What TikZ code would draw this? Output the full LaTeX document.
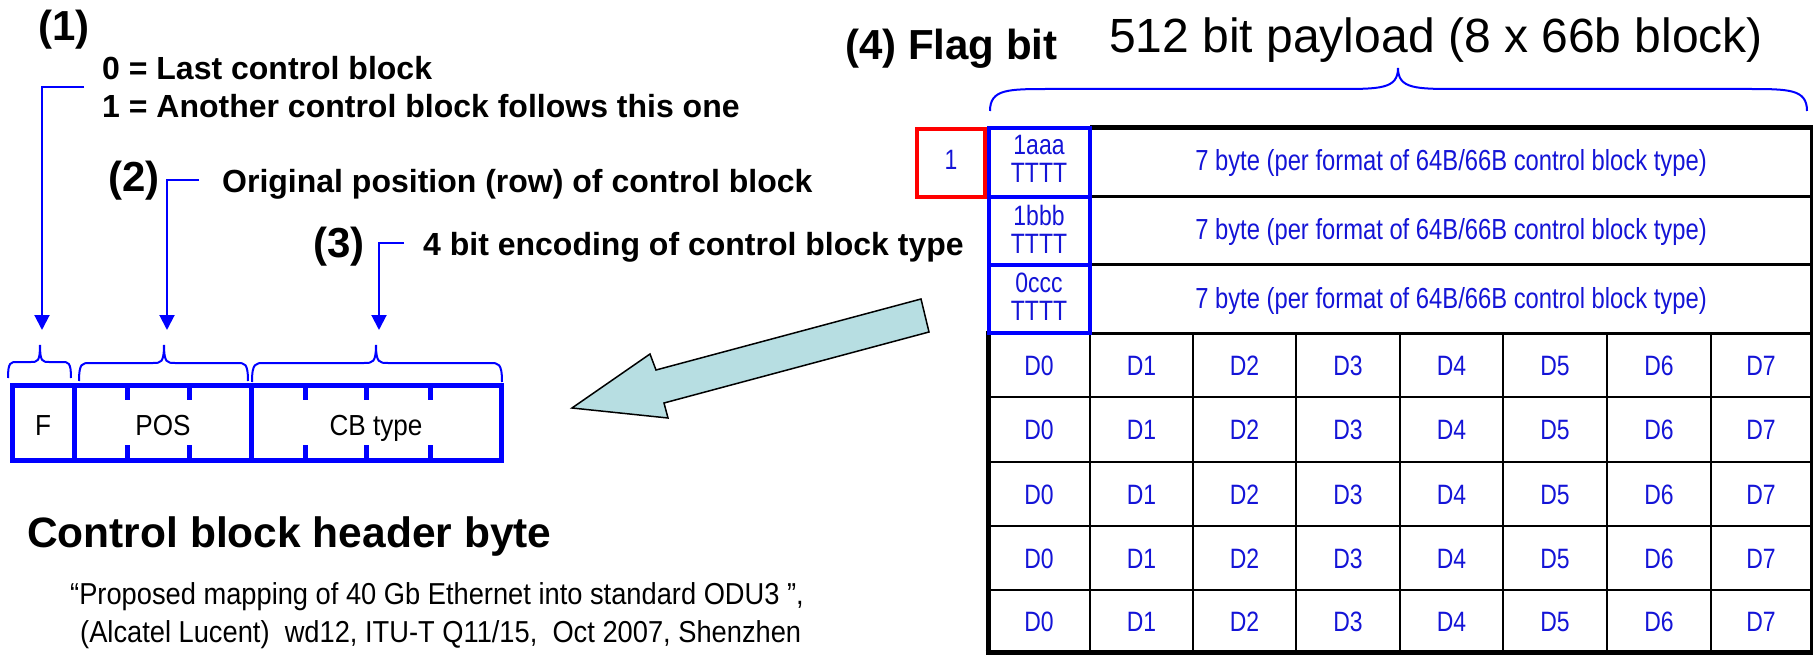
\documentclass[tikz,border=0pt]{standalone}
\usepackage{fontspec}
\setmainfont{Liberation Sans}
\newfontfamily\narrowfont[FakeStretch=0.82]{Liberation Sans}
\newfontfamily\fieldfont[FakeStretch=0.9]{Liberation Sans}
\usetikzlibrary{arrows.meta}

\definecolor{lineblue}{RGB}{0,0,255}
\definecolor{textblue}{RGB}{20,20,215}
\definecolor{flagred}{RGB}{255,0,0}
\definecolor{arrowfill}{RGB}{183,222,226}

% Horizontal curly brace opening downwards:
% #1 left x, #2 right x, #3 tip x, #4 end y, #5 flat y, #6 tip y, #7 curl width
\newcommand{\fieldbrace}[7]{%
  \draw[bracepen] (#1,#4) .. controls (#1,#5) and (#1+0.3*#7,#5) .. (#1+#7,#5)
    -- (#3-#7,#5) .. controls (#3-0.3*#7,#5) and (#3,#5) .. (#3,#6)
    .. controls (#3,#5) and (#3+0.3*#7,#5) .. (#3+#7,#5)
    -- (#2-#7,#5) .. controls (#2-0.3*#7,#5) and (#2,#5) .. (#2,#4);}

\tikzset{
  bracepen/.style={draw=lineblue, line width=2pt},
  callout/.style={draw=lineblue, line width=2pt, -{Triangle[width=15pt,length=15pt]}},
  numlbl/.style={anchor=base west, inner sep=0pt, font=\fontsize{42}{46}\selectfont\bfseries},
  desclbl/.style={anchor=base west, inner sep=0pt, font=\fontsize{32}{36}\selectfont\bfseries},
  bytebox/.style={draw=lineblue, line width=5pt},
  bytetick/.style={draw=lineblue, line width=5pt},
  fieldtxt/.style={anchor=base, inner sep=0pt, font=\fieldfont\fontsize{29}{31}\selectfont},
  thickrule/.style={draw=black, line width=5pt},
  midrule/.style={draw=black, line width=3pt},
  gridrule/.style={draw=black, line width=2.5pt},
  cbcell/.style={inner sep=0pt, align=center, text=textblue, font=\narrowfont\fontsize{28}{28}\selectfont},
  bytetxt/.style={anchor=base, inner sep=0pt, text=textblue, font=\narrowfont\fontsize{29}{30}\selectfont},
  datatxt/.style={anchor=base, inner sep=0pt, text=textblue, font=\narrowfont\fontsize{28}{30}\selectfont},
  quotetxt/.style={anchor=base west, inner sep=0pt, font=\fieldfont\fontsize{30.3}{34}\selectfont},
}

\begin{document}
\begin{tikzpicture}[x=1pt, y=-1pt]
\fill[white] (0,0) rectangle (1813,655);
\useasboundingbox (0,0) rectangle (1813,655);

% ---------- field descriptions ----------
\node[numlbl] (n1) at (38,41) {(1)};
\node[desclbl] (d1a) at (102,80) {0 = Last control block};
\node[desclbl] (d1b) at (102,118) {1 = Another control block follows this one};
\node[numlbl] (n2) at (108,192) {(2)};
\node[desclbl] (d2) at (222,193) {Original position (row) of control block};
\node[numlbl] (n3) at (313,258) {(3)};
\node[desclbl] (d3) at (423,255) {4 bit encoding of control block type};

% callout lines down to the header fields
\coordinate (k1) at (84,87);   \coordinate (a1) at (42,330);
\coordinate (k2) at (199,180); \coordinate (a2) at (167,330);
\coordinate (k3) at (404,243); \coordinate (a3) at (379,330);
\draw[callout] (k1) -| (a1);
\draw[callout] (k2) -| (a2);
\draw[callout] (k3) -| (a3);

% ---------- control block header byte ----------
\fieldbrace{8}{71}{40}{378}{362}{345}{9}
\fieldbrace{79}{248}{164}{381}{363}{345}{11}
\fieldbrace{252}{502}{376}{382}{363}{345}{12}

\draw[bytebox] (12,385) rectangle (501,460);
\draw[bytebox] (74.5,385) -- (74.5,460);
\draw[bytebox] (251.5,385) -- (251.5,460);
\foreach \tx in {127.3,189.3,305,366.7,430} {
  \draw[bytetick] (\tx,385) -- (\tx,400);
  \draw[bytetick] (\tx,445) -- (\tx,460);
}
\node[fieldtxt] (fF) at (43,435) {F};
\node[fieldtxt] (fPOS) at (163,435) {POS};
\node[fieldtxt] (fCB) at (376,435) {CB type};

\node[anchor=base west, inner sep=0pt, font=\fontsize{42.5}{46}\selectfont\bfseries] (title) at (27,547) {Control block header byte};
\node[quotetxt] (q1) at (70,604) {“Proposed mapping of 40 Gb Ethernet into standard ODU3 ”,};
\node[quotetxt] (q2) at (80,642) {(Alcatel Lucent)~ wd12, ITU-T Q11/15,~ Oct 2007, Shenzhen};

% ---------- big arrow ----------
\draw[fill=arrowfill, draw=black, line width=1.5pt, line join=miter]
  (572,408) -- (650,354) -- (656,370) -- (921,299) -- (929,332) -- (664,403) -- (668,418) -- cycle;

% ---------- payload block ----------
\node[numlbl] (n4) at (845,60) {(4) Flag bit};
\node[anchor=base west, inner sep=0pt, font=\fontsize{48}{52}\selectfont] (pay) at (1109,53) {512 bit payload (8 x 66b block)};
\fieldbrace{990}{1807}{1398}{111}{89}{68}{60}

% black frame and grid
\draw[thickrule] (1090,128) -- (1813,128);
\draw[midrule] (1811.5,128) -- (1811.5,652);
\foreach \ry in {197,265,333} { \draw[midrule] (1090,\ry) -- (1811,\ry); }
\foreach \ry in {397,462,526,590} { \draw[gridrule] (988,\ry) -- (1811,\ry); }
\foreach \cx in {1090,1193,1296,1400,1503,1607,1711} { \draw[gridrule] (\cx,333) -- (\cx,652); }
\draw[thickrule] (988,331) -- (988,654.5);
\draw[thickrule] (985.5,652) -- (1813,652);

% flag bit and control block type cells
\draw[draw=flagred, line width=4pt] (917,129) rectangle (985,197);
\draw[draw=lineblue, line width=4.5pt] (989,128) rectangle (1090,333);
\draw[draw=lineblue, line width=4.5pt] (989,197) -- (1090,197);
\draw[draw=lineblue, line width=4.5pt] (989,265) -- (1090,265);

\node[cbcell, anchor=base] (flag) at (951,170) {1};
\node[cbcell] (cb1) at (1039,159) {1aaa\\TTTT};
\node[cbcell] (cb2) at (1039,229) {1bbb\\TTTT};
\node[cbcell] (cb3) at (1039,297) {0ccc\\TTTT};

\node[bytetxt] (b1) at (1451,171) {7 byte (per format of 64B/66B control block type)};
\node[bytetxt] (b2) at (1451,240) {7 byte (per format of 64B/66B control block type)};
\node[bytetxt] (b3) at (1451,308) {7 byte (per format of 64B/66B control block type)};

% data bytes
\foreach \ry [count=\ri] in {375,439.5,504,568,631} {
  \foreach \cx [count=\ci from 0] in {1039,1141.5,1244.5,1348,1451.5,1555,1659,1761} {
    \node[datatxt] (dat\ri-\ci) at (\cx,\ry) {D\ci};
  }
}
\end{tikzpicture}
\end{document}
